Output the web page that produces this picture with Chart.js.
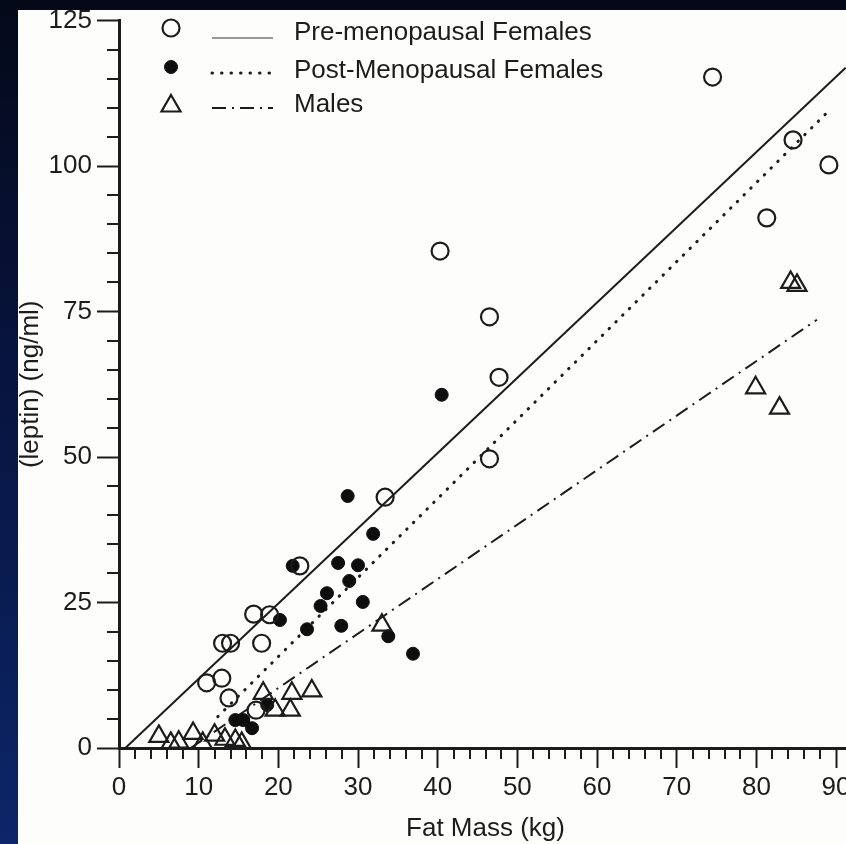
<!DOCTYPE html>
<html><head><meta charset="utf-8">
<script src="https://cdn.jsdelivr.net/npm/chart.js@4.4.1/dist/chart.umd.min.js"></script>
<style>
html,body{margin:0;padding:0;width:846px;height:844px;overflow:hidden;}
body{position:relative;background:#fdfdfb;}
#wrap{position:absolute;left:0;top:0;width:880px;height:844px;}
#bandTop{position:absolute;left:0;top:0;width:846px;height:10px;background:#040918;z-index:5;}
#bandLeft{position:absolute;left:0;top:0;width:18px;height:844px;background:linear-gradient(180deg,#040918 0%,#07143f 45%,#0c2668 100%);z-index:5;}
</style></head><body>
<div id="wrap"><canvas id="c" width="880" height="844"></canvas></div>
<div id="bandTop"></div><div id="bandLeft"></div>
<script>
// ---- data ----
const preX  = [74.5, 84.6, 89.1, 81.3, 40.3, 46.5, 47.7, 46.5, 33.4, 22.7, 16.9, 18.9, 13.0, 14.0, 17.9, 11.0, 12.9, 13.8, 17.2];
const preY  = [115.3, 104.5, 100.2, 91.1, 85.4, 74.1, 63.7, 49.7, 43.1, 31.3, 23.0, 22.9, 18.0, 18.0, 18.0, 11.2, 12.0, 8.6, 6.5];
const postX = [40.5, 28.7, 31.9, 27.5, 30.0, 28.9, 26.1, 25.3, 30.6, 27.9, 23.6, 33.8, 36.9, 20.2, 21.8, 14.6, 15.6, 16.7, 18.6];
const postY = [60.7, 43.3, 36.8, 31.8, 31.4, 28.7, 26.6, 24.4, 25.1, 21.0, 20.4, 19.2, 16.2, 22.0, 31.3, 4.8, 4.8, 3.4, 7.4];
const maleX = [5.0, 6.5, 7.5, 9.3, 10.5, 12.0, 13.3, 14.6, 15.4, 18.1, 19.6, 21.5, 21.7, 24.2, 33.0, 79.9, 82.9, 84.3, 85.1];
const maleY = [2.0, 0.8, 1.0, 2.5, 0.8, 2.2, 1.5, 1.3, 0.8, 9.4, 6.5, 6.5, 9.4, 9.8, 21.1, 61.9, 58.4, 80.0, 79.5];
const preFitX  = [0.8, 91.2];  const preFitY  = [0, 116.9];
const postFitX = [12.4, 88.8]; const postFitY = [5.4, 109.1];
const maleFitX = [9.0, 87.6];  const maleFitY = [0, 73.6];
const legendLabels = ['Pre-menopausal Females', 'Post-Menopausal Females', 'Males'];
const xTitle = 'Fat Mass (kg)';
const yTitle = '(leptin) (ng/ml)';
const xMin = 0, xMax = 92, xMajor = 10, xMinor = 2;
const yMin = 0, yMax = 125, yMajor = 25, yMinor = 5;

const zip = (a, b) => a.map((v, i) => ({x: v, y: b[i]}));
const isMult = (v, m) => Math.abs(Math.round(v / m) * m - v) < 1e-6;
const INK = '#1c1c1c';
const FONT = "'Liberation Sans', Arial, Helvetica, sans-serif";

const ptPre  = {pointStyle:'circle', pointRadius:8.5, borderWidth:2.2, borderColor:INK, backgroundColor:'rgba(0,0,0,0)'};
const ptPost = {pointStyle:'circle', pointRadius:6.5, borderWidth:1, borderColor:'#0e0e0e', backgroundColor:'#0e0e0e'};
const ptMale = {pointStyle:'triangle', pointRadius:11, borderWidth:2.2, borderColor:INK, backgroundColor:'rgba(0,0,0,0)'};
const lnPre  = {borderColor:INK, borderWidth:2, borderDash:[], borderCapStyle:'butt'};
const lnPost = {borderColor:INK, borderWidth:3, borderDash:[0.5, 9], borderCapStyle:'round'};
const lnMale = {borderColor:INK, borderWidth:2, borderDash:[14, 6, 2, 6], borderCapStyle:'butt'};

const minorTicks = {
  id: 'minorTicks',
  afterDraw(chart) {
    const {ctx, scales: {x, y}, chartArea} = chart;
    ctx.save();
    ctx.strokeStyle = INK; ctx.lineWidth = 2;
    for (let v = yMin; v <= yMax; v += yMinor) {
      if (isMult(v, yMajor)) continue;
      const py = Math.round(y.getPixelForValue(v));
      ctx.beginPath(); ctx.moveTo(chartArea.left - 12, py); ctx.lineTo(chartArea.left, py); ctx.stroke();
    }
    for (let v = xMin; v <= xMax; v += xMinor) {
      if (isMult(v, xMajor)) continue;
      const px = Math.round(x.getPixelForValue(v));
      ctx.beginPath(); ctx.moveTo(px, chartArea.bottom); ctx.lineTo(px, chartArea.bottom + 11); ctx.stroke();
    }
    ctx.restore();
  }
};

const legendPlugin = {
  id: 'innerLegend',
  afterDraw(chart) {
    const {ctx} = chart;
    const rows = [
      {pt: ptPre, ln: lnPre, my: 28, ly: 38, ty: 40},
      {pt: ptPost, ln: lnPost, my: 67, ly: 73, ty: 78},
      {pt: ptMale, ln: lnMale, my: 106, ly: 108, ty: 112}
    ];
    ctx.save();
    rows.forEach((r, i) => {
      ctx.lineWidth = r.pt.borderWidth; ctx.strokeStyle = r.pt.borderColor; ctx.fillStyle = r.pt.backgroundColor;
      Chart.helpers.drawPoint(ctx, {pointStyle: r.pt.pointStyle, radius: r.pt.pointRadius, rotation: 0, borderWidth: r.pt.borderWidth}, 171, r.my);
      ctx.beginPath();
      ctx.setLineDash(r.ln.borderDash); ctx.lineCap = r.ln.borderCapStyle;
      ctx.lineWidth = r.ln.borderWidth; ctx.strokeStyle = i === 0 ? '#9a9a9a' : INK;
      ctx.moveTo(212, r.ly); ctx.lineTo(273, r.ly); ctx.stroke();
      ctx.setLineDash([]);
      ctx.fillStyle = INK; ctx.font = '26px ' + FONT; ctx.textBaseline = 'alphabetic'; ctx.textAlign = 'left';
      ctx.fillText(legendLabels[i], 294, r.ty);
    });
    ctx.restore();
  }
};

new Chart(document.getElementById('c'), {
  type: 'scatter',
  data: {
    datasets: [
      Object.assign({label: legendLabels[0] + ' fit', data: zip(preFitX, preFitY), showLine: true, pointRadius: 0, fill: false, order: 5}, lnPre),
      Object.assign({label: legendLabels[1] + ' fit', data: zip(postFitX, postFitY), showLine: true, pointRadius: 0, fill: false, order: 5}, lnPost),
      Object.assign({label: legendLabels[2] + ' fit', data: zip(maleFitX, maleFitY), showLine: true, pointRadius: 0, fill: false, order: 5}, lnMale),
      Object.assign({label: legendLabels[1], data: zip(postX, postY), order: 3}, ptPost),
      Object.assign({label: legendLabels[0], data: zip(preX, preY), order: 2}, ptPre),
      Object.assign({label: legendLabels[2], data: zip(maleX, maleY), order: 1}, ptMale)
    ]
  },
  options: {
    responsive: false, animation: false,
    layout: {padding: {top: 20, right: 28, left: 0, bottom: 0}},
    plugins: {legend: {display: false}, tooltip: {enabled: false}},
    scales: {
      x: {
        type: 'linear', position: 'bottom', min: xMin, max: xMax,
        afterBuildTicks: s => { s.ticks = s.ticks.filter(t => isMult(t.value, xMajor)); },
        afterFit: s => { s.height = 96; },
        ticks: {stepSize: xMajor, includeBounds: false, autoSkip: false, maxRotation: 0, padding: 4, color: INK, font: {family: FONT, size: 26}},
        grid: {drawOnChartArea: false, drawTicks: true, tickLength: 20, tickWidth: 2, tickColor: INK},
        border: {display: true, color: INK, width: 3},
        title: {display: true, text: xTitle, color: INK, font: {family: FONT, size: 26}, padding: {top: 0, bottom: 0}}
      },
      y: {
        type: 'linear', position: 'left', min: yMin, max: yMax,
        afterFit: s => { s.width = 119; },
        ticks: {stepSize: yMajor, padding: 5, color: INK, font: {family: FONT, size: 26}},
        grid: {drawOnChartArea: false, drawTicks: true, tickLength: 22, tickWidth: 2, tickColor: INK},
        border: {display: true, color: INK, width: 3},
        title: {display: true, text: yTitle, color: INK, font: {family: FONT, size: 26}, padding: {top: 15, bottom: 0}}
      }
    }
  },
  plugins: [minorTicks, legendPlugin]
});
</script>
</body></html>
